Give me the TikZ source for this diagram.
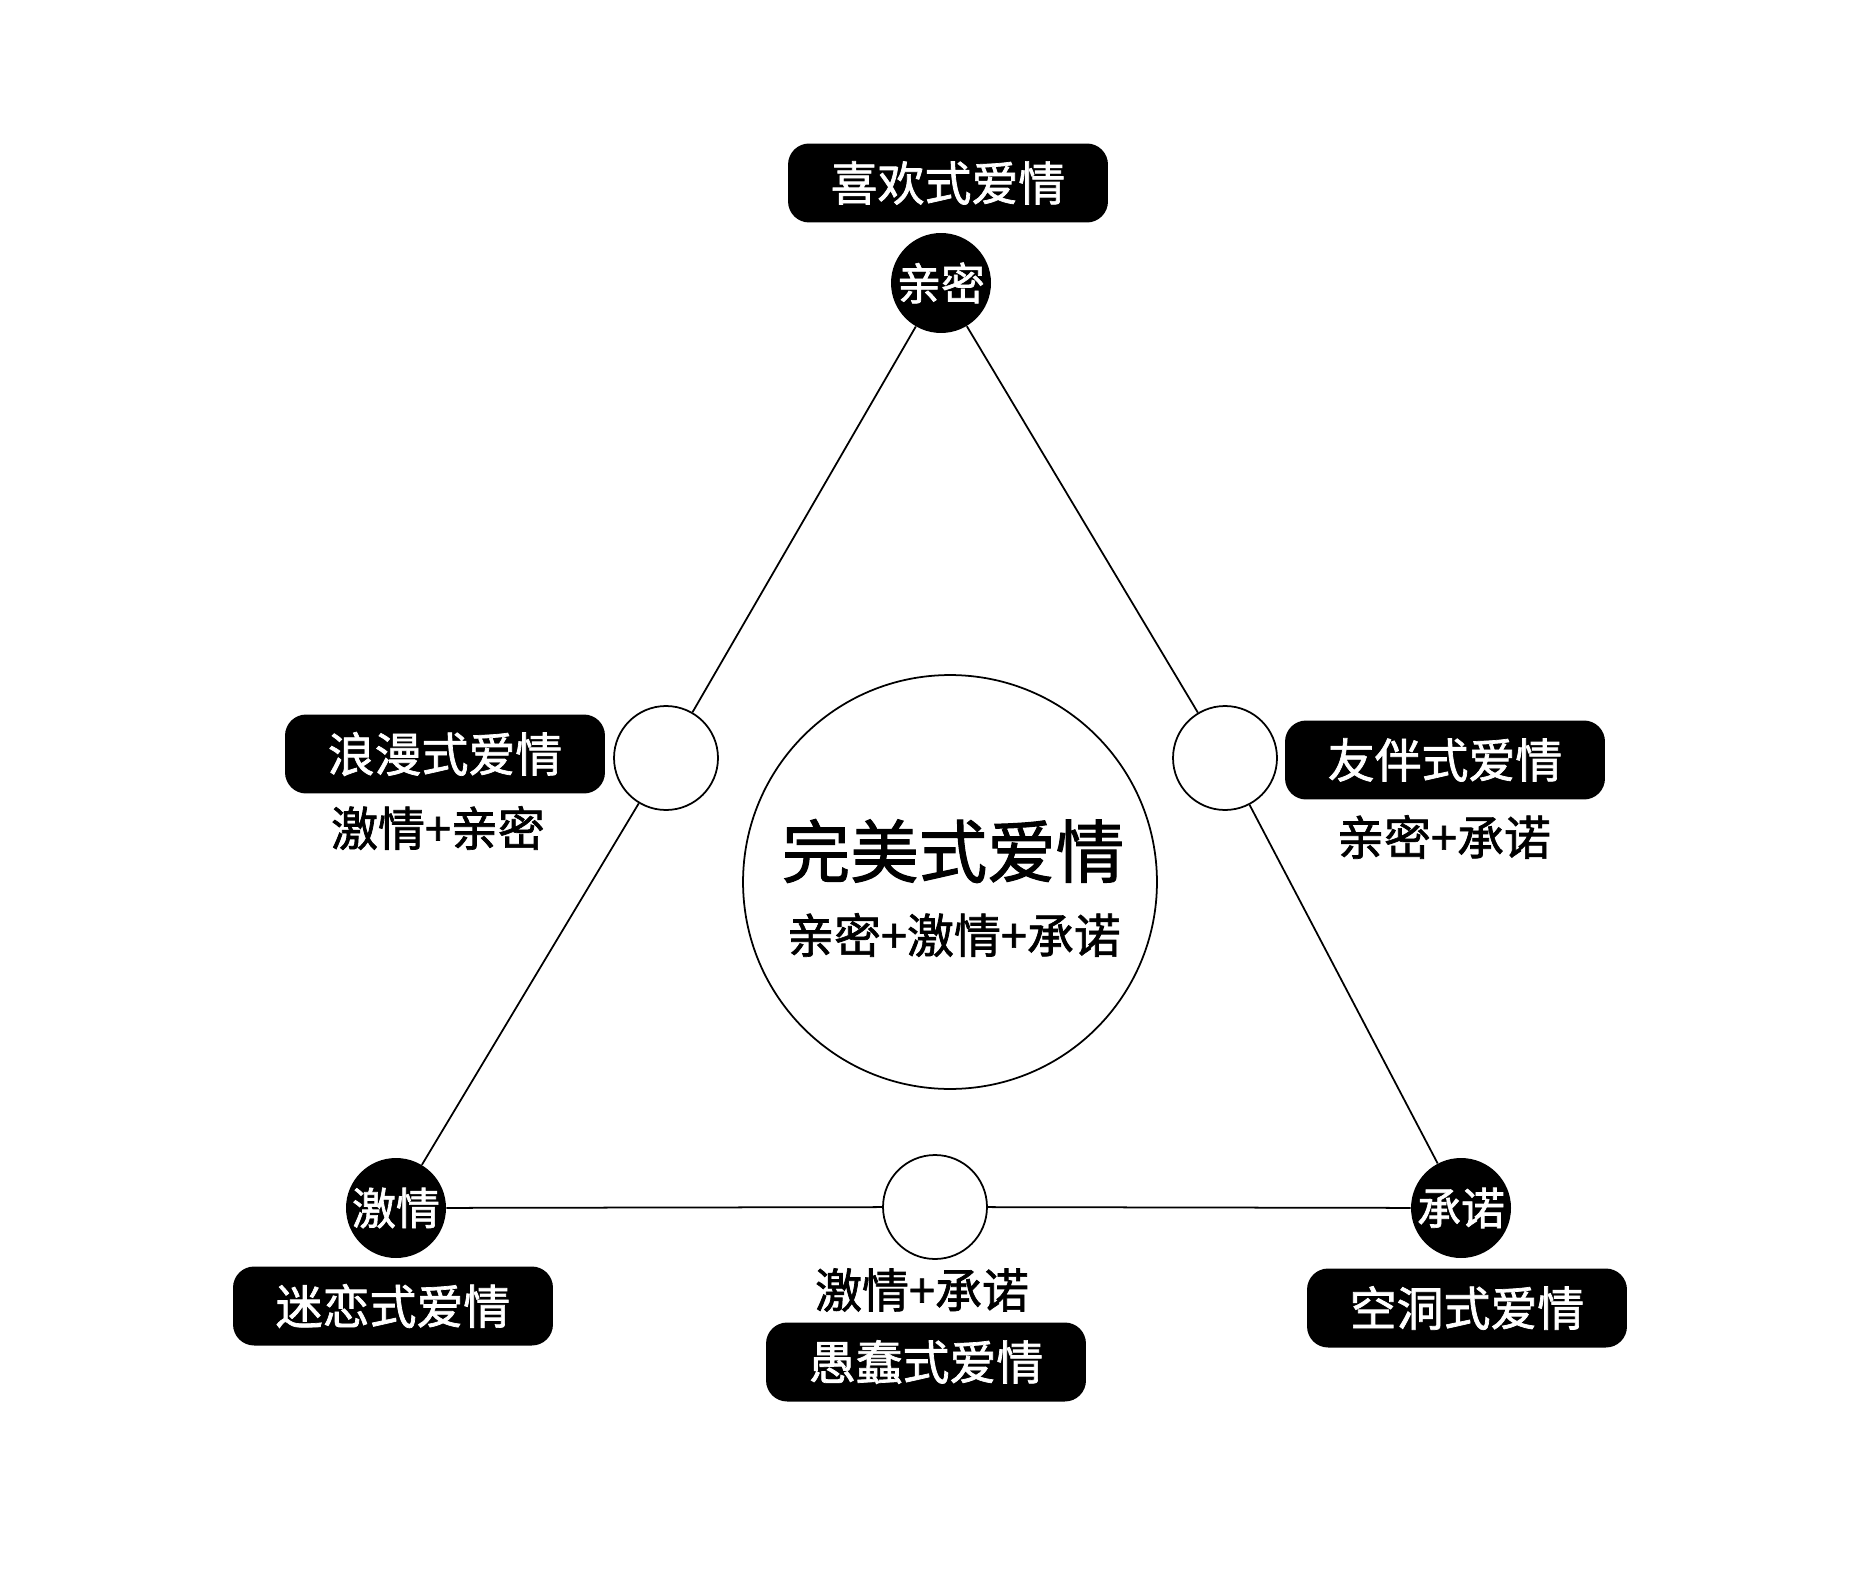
\documentclass[tikz,border=0pt]{standalone}
\usepackage{fontspec}
\setmainfont{Noto Sans CJK SC}[RawFeature={embolden=1.5}]
\usetikzlibrary{positioning}
\tikzset{
  every node/.style={font=\fontsize{26.7}{32}\selectfont},
  % --- nodes
  kind/.style  = {rounded corners=12pt, fill=black, text=white, inner sep=0pt,
                  minimum width=6.4cm, minimum height=1.58cm},
  pole/.style  = {circle, fill=black, text=white, inner sep=0pt, minimum size=2cm,
                  font=\fontsize{25}{30}\selectfont},
  mix/.style   = {circle, draw=black, fill=white, line width=1pt, inner sep=0pt,
                  minimum size=2.08cm},
  whole/.style = {circle, draw=black, line width=1pt, inner sep=0pt, minimum size=8.28cm},
  combo/.style = {inner sep=0pt},
  % --- edges
  e/.style     = {draw=black, line width=1pt},
}
\begin{document}
\begin{tikzpicture}[x=0.02cm, y=-0.02cm]
  \useasboundingbox (0,0) rectangle (1861,1574);
  % vertices
  \node[pole] (qm) at (941,283)  {亲密};
  \node[pole] (jq) at (396,1208) {激情};
  \node[pole] (cn) at (1461,1208) {承诺};
  % pairs
  \node[mix] (qmjq) at (666,758)  {};
  \node[mix] (qmcn) at (1225,758) {};
  \node[mix] (jqcn) at (935,1207) {};
  \draw[e] (qm) -- (qmjq) -- (jq);
  \draw[e] (qm) -- (qmcn) -- (cn);
  \draw[e] (jq) -- (jqcn) -- (cn);
  % centre
  \node[whole] (all) at (950,882) {};
  \node[combo, font=\fontsize{39}{46}\selectfont] (allname) at (953,851) {完美式爱情};
  \node[combo] (allmix) at (954,935) {亲密+激情+承诺};
  % kinds
  \node[kind] (like)  at (948,183)   {喜欢式爱情};
  \node[kind] (roman) at (445,754)   {浪漫式爱情};
  \node[combo] (romanmix) at (438,828) {激情+亲密};
  \node[kind] (mate)  at (1445,760)  {友伴式爱情};
  \node[combo] (matemix) at (1444,837) {亲密+承诺};
  \node[kind] (crush) at (393,1306)  {迷恋式爱情};
  \node[kind] (empty) at (1467,1308) {空洞式爱情};
  \node[combo] (foolmix) at (922,1290) {激情+承诺};
  \node[kind] (fool)  at (926,1362)  {愚蠢式爱情};
\end{tikzpicture}
\end{document}
